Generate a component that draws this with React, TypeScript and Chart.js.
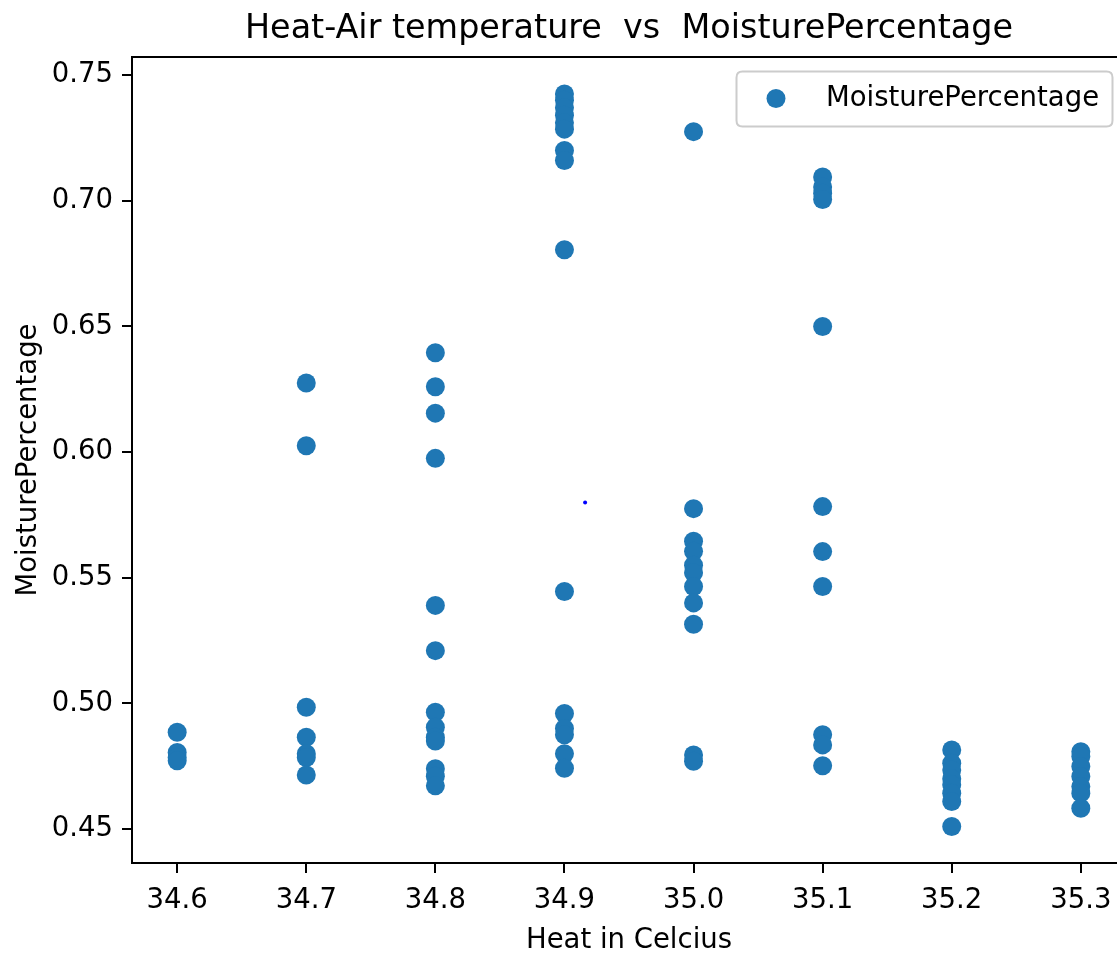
import { useEffect, useRef } from "react";
import { Chart, registerables } from "chart.js";

Chart.register(...registerables);

// ---- data ----
const heatCategories = [34.6, 34.7, 34.8, 34.9, 35.0, 35.1, 35.2, 35.3];

const moistureAt346 = [0.4885, 0.4805, 0.4785, 0.4772];
const moistureAt347 = [0.6275, 0.6025, 0.4985, 0.4865, 0.48, 0.4785, 0.4715];
const moistureAt348 = [0.6395, 0.626, 0.6155, 0.5975, 0.539, 0.521, 0.4965, 0.4905, 0.4865, 0.485, 0.474, 0.471, 0.4672];
const moistureAt349 = [0.7425, 0.74, 0.737, 0.734, 0.731, 0.7285, 0.72, 0.716, 0.6805, 0.5445, 0.496, 0.49, 0.4875, 0.48, 0.4742];
const moistureAt350 = [0.7275, 0.5775, 0.5645, 0.5605, 0.555, 0.552, 0.5465, 0.54, 0.5315, 0.4795, 0.477];
const moistureAt351 = [0.7095, 0.7055, 0.703, 0.7005, 0.65, 0.5783, 0.5604, 0.5465, 0.4875, 0.4835, 0.4752];
const moistureAt352 = [0.4815, 0.4762, 0.4735, 0.47, 0.4676, 0.4643, 0.461, 0.451];
const moistureAt353 = [0.4808, 0.4789, 0.4749, 0.4709, 0.4669, 0.4643, 0.4583];

const moistureByHeat = [
  moistureAt346,
  moistureAt347,
  moistureAt348,
  moistureAt349,
  moistureAt350,
  moistureAt351,
  moistureAt352,
  moistureAt353,
];

const strayHeat = [34.916];
const strayMoisture = [0.5799];

const xTickValues = [34.6, 34.7, 34.8, 34.9, 35.0, 35.1, 35.2, 35.3];
const yTickValues = [0.45, 0.5, 0.55, 0.6, 0.65, 0.7, 0.75];

const chartTitle = "Heat-Air temperature  vs  MoisturePercentage";
const xAxisTitle = "Heat in Celcius";
const yAxisTitle = "MoisturePercentage";
const seriesLabel = "MoisturePercentage";

const FONT = "'DejaVu Sans', 'Noto Sans', sans-serif";
const BLUE = "#1f77b4";
const TEXT_SIZE = 27.5;

export default function App() {
  const canvasRef = useRef<HTMLCanvasElement | null>(null);

  useEffect(() => {
    document.body.style.margin = "0";
    const canvas = canvasRef.current;
    if (!canvas) return;

    const points = heatCategories.flatMap((h, i) =>
      moistureByHeat[i].map((m) => ({ x: h, y: m }))
    );
    const stray = strayHeat.map((h, i) => ({ x: h, y: strayMoisture[i] }));

    const framePlugin = {
      id: "frameAndText",
      afterDatasetsDraw(chart: any) {
        const { ctx, chartArea } = chart;
        const { left, top, right, bottom } = chartArea;
        ctx.save();
        ctx.strokeStyle = "#000";
        ctx.lineWidth = 2;
        ctx.beginPath();
        ctx.moveTo(right + 5, top);
        ctx.lineTo(left, top);
        ctx.lineTo(left, bottom);
        ctx.lineTo(right + 5, bottom);
        ctx.stroke();
        ctx.restore();
      },
      afterDraw(chart: any) {
        const { ctx, chartArea } = chart;
        ctx.save();
        ctx.fillStyle = "#000";
        ctx.font = `33.4px ${FONT}`;
        ctx.textAlign = "center";
        ctx.textBaseline = "middle";
        ctx.fillText(chartTitle, (chartArea.left + chartArea.right) / 2, 29);

        const bx = 736.5;
        const by = 71.5;
        const bw = 376;
        const bh = 55;
        const r = 6;
        ctx.beginPath();
        ctx.moveTo(bx + r, by);
        ctx.lineTo(bx + bw - r, by);
        ctx.quadraticCurveTo(bx + bw, by, bx + bw, by + r);
        ctx.lineTo(bx + bw, by + bh - r);
        ctx.quadraticCurveTo(bx + bw, by + bh, bx + bw - r, by + bh);
        ctx.lineTo(bx + r, by + bh);
        ctx.quadraticCurveTo(bx, by + bh, bx, by + bh - r);
        ctx.lineTo(bx, by + r);
        ctx.quadraticCurveTo(bx, by, bx + r, by);
        ctx.closePath();
        ctx.fillStyle = "rgba(255,255,255,0.8)";
        ctx.fill();
        ctx.strokeStyle = "#cccccc";
        ctx.lineWidth = 2;
        ctx.stroke();

        ctx.beginPath();
        ctx.arc(776, 98.5, 9.5, 0, Math.PI * 2);
        ctx.fillStyle = BLUE;
        ctx.fill();

        ctx.fillStyle = "#000";
        ctx.font = `${TEXT_SIZE}px ${FONT}`;
        ctx.textAlign = "left";
        ctx.textBaseline = "middle";
        ctx.fillText(seriesLabel, 826, 99);
        ctx.restore();
      },
    };

    const chart = new Chart(canvas, {
      type: "scatter",
      data: {
        datasets: [
          {
            label: seriesLabel,
            data: points,
            backgroundColor: BLUE,
            borderWidth: 0,
            pointRadius: 9.5,
            pointHoverRadius: 9.5,
          },
          {
            label: "marker",
            data: stray,
            backgroundColor: "#0000ff",
            borderWidth: 0,
            pointRadius: 2,
            pointHoverRadius: 2,
          },
        ],
      },
      options: {
        responsive: false,
        animation: false,
        devicePixelRatio: 1,
        layout: { padding: { top: 57, left: 0, right: 10, bottom: 0 } },
        plugins: {
          legend: { display: false },
          title: { display: false },
          tooltip: { enabled: false },
        },
        scales: {
          x: {
            type: "linear",
            min: 34.565,
            max: 35.335,
            afterBuildTicks: (scale: any) => {
              scale.ticks = xTickValues.map((v) => ({ value: v }));
            },
            afterFit: (scale: any) => {
              scale.height = 94;
              scale.paddingLeft = 0;
              scale.paddingRight = 0;
            },
            ticks: {
              color: "#000",
              font: { family: FONT, size: TEXT_SIZE },
              padding: 11,
              maxRotation: 0,
              autoSkip: false,
              callback: (v: any) => Number(v).toFixed(1),
            },
            grid: {
              display: true,
              drawOnChartArea: false,
              drawTicks: true,
              tickLength: 10,
              tickWidth: 2,
              tickColor: "#000",
              color: "#000",
              lineWidth: 2,
            },
            border: { display: false },
            title: {
              display: true,
              text: xAxisTitle,
              color: "#000",
              font: { family: FONT, size: TEXT_SIZE },
              padding: { top: 0, bottom: 0 },
            },
          },
          y: {
            type: "linear",
            min: 0.4365,
            max: 0.7572,
            afterBuildTicks: (scale: any) => {
              scale.ticks = yTickValues.map((v) => ({ value: v }));
            },
            afterFit: (scale: any) => {
              scale.width = 132;
              scale.paddingTop = 0;
              scale.paddingBottom = 0;
            },
            ticks: {
              color: "#000",
              font: { family: FONT, size: TEXT_SIZE },
              padding: 9,
              autoSkip: false,
              callback: (v: any) => Number(v).toFixed(2),
            },
            grid: {
              display: true,
              drawOnChartArea: false,
              drawTicks: true,
              tickLength: 10,
              tickWidth: 2,
              tickColor: "#000",
              color: "#000",
              lineWidth: 2,
            },
            border: { display: false },
            title: {
              display: true,
              text: yAxisTitle,
              color: "#000",
              font: { family: FONT, size: TEXT_SIZE },
              padding: { top: 12, bottom: 0 },
            },
          },
        },
      },
      plugins: [framePlugin],
    });

    return () => chart.destroy();
  }, []);

  return (
    <div
      style={{
        position: "absolute",
        left: 0,
        top: 0,
        width: 1117,
        height: 957,
        overflow: "hidden",
        background: "#fff",
      }}
    >
      <canvas ref={canvasRef} width={1136} height={957} style={{ width: 1136, height: 957 }} />
    </div>
  );
}
